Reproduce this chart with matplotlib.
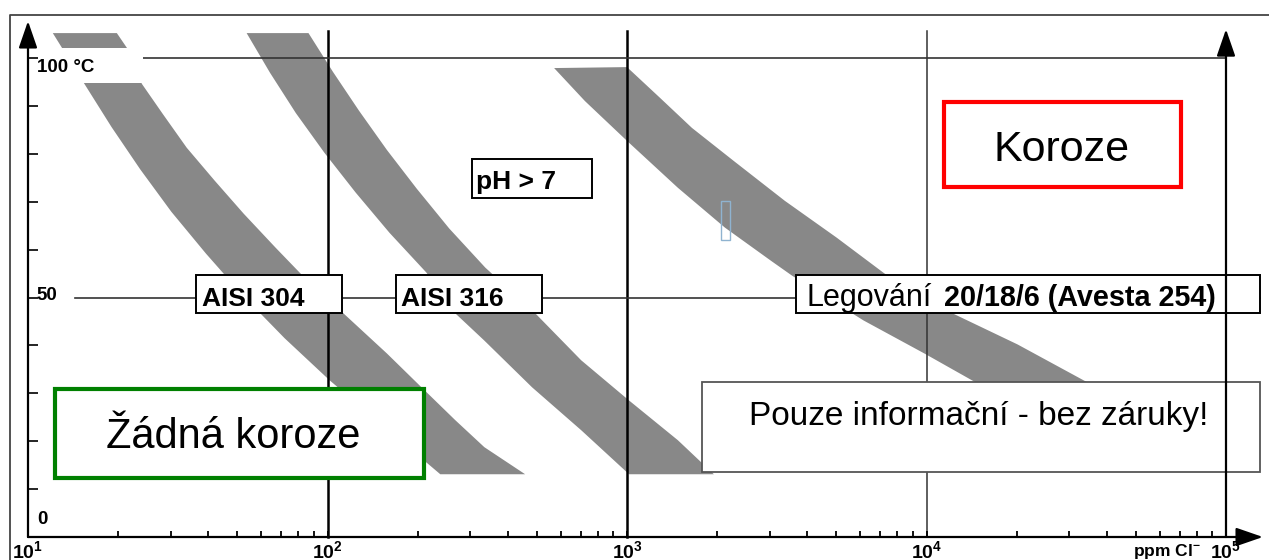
import matplotlib
matplotlib.use('Agg')
import matplotlib.pyplot as plt
from matplotlib.patches import Rectangle
from matplotlib.ticker import LogLocator, NullFormatter

plt.rcParams['font.family'] = ['Liberation Sans', 'DejaVu Sans']
plt.rcParams['mathtext.fontset'] = 'custom'
plt.rcParams['mathtext.rm'] = 'Liberation Sans'
plt.rcParams['mathtext.bf'] = 'Liberation Sans:bold'

# pásma (ppm Cl-, teplota °C) - levý a pravý okraj
aisi304_left_ppm = [12.1, 15.5, 19.0, 23.7, 30.1, 39.3, 52.4, 71.9, 101.7, 238]
aisi304_left_t = [105.2, 94.4, 85.6, 76.75, 67.9, 59.15, 50.3, 41.5, 32.7, 13.1]
aisi304_right_ppm = [19.8, 21.4, 24.0, 28.2, 33.9, 42.0, 52.5, 67.1, 81.3, 113, 158, 206, 267, 334, 457]
aisi304_right_t = [105.2, 102.1, 94.6, 88.3, 81.25, 74.4, 67.5, 60.4, 55.0, 46.7, 38.3, 31.25, 24.4, 18.75, 13.1]

aisi316_left_ppm = [53.7, 64.3, 78.4, 97.7, 124.2, 161.1, 213.9, 267, 334, 482, 703, 1016]
aisi316_left_t = [105.2, 96.9, 88.5, 80.2, 71.9, 63.5, 55.2, 46.7, 41.0, 31.25, 22.3, 13.1]
aisi316_right_ppm = [86.4, 104.3, 127.4, 157.9, 198.7, 255.0, 336.3, 494, 703, 1016, 1479, 1950]
aisi316_right_t = [105.2, 97.1, 89.0, 80.8, 72.7, 64.4, 56.25, 46.7, 36.9, 28.5, 20.2, 13.1]

avesta_left_ppm = [571, 724, 1000, 1479, 2122, 3020, 3550, 6166, 9847, 14570, 18600]
avesta_left_t = [97.9, 91.0, 82.7, 72.9, 64.6, 57.7, 54.6, 45.2, 38.3, 32.3, 28.0]
avesta_right_ppm = [1000, 1288, 1648, 2273, 3362, 5012, 7244, 12210, 20140, 34410, 45000]
avesta_right_t = [98.1, 91.7, 85.4, 78.5, 70.2, 62.5, 55.0, 46.7, 40.2, 32.3, 28.0]

x_major = [10, 100, 1000, 10000, 100000]
x_labels = [r'$\mathbf{10^{1}}$', r'$\mathbf{10^{2}}$', r'$\mathbf{10^{3}}$',
            r'$\mathbf{10^{4}}$', r'$\mathbf{10^{5}}$']
y_ticks = list(range(0, 101, 10))

band_color = '#888888'


def band(ax, lx, ly, rx, ry):
    xs = list(lx) + list(rx)[::-1]
    ys = list(ly) + list(ry)[::-1]
    ax.fill(xs, ys, color=band_color, lw=0, zorder=1, clip_on=False)


def box(ax, x0, x1, y0, y1, ec, lw, z=5):
    ax.add_patch(Rectangle((x0, y0), x1 - x0, y1 - y0, facecolor='white',
                           edgecolor=ec, lw=lw, zorder=z, clip_on=False))


fig = plt.figure(figsize=(12.69, 5.6), dpi=100)
ax = fig.add_axes([28 / 1269, 23 / 560, 1198 / 1269, 479 / 560])
ax.set_xscale('log')
ax.set_xlim(10, 1e5)
ax.set_ylim(0, 100)
for s in ax.spines.values():
    s.set_visible(False)

band(ax, aisi304_left_ppm, aisi304_left_t, aisi304_right_ppm, aisi304_right_t)
band(ax, aisi316_left_ppm, aisi316_left_t, aisi316_right_ppm, aisi316_right_t)
band(ax, avesta_left_ppm, avesta_left_t, avesta_right_ppm, avesta_right_t)

# mrizka
ax.plot([100, 100], [0, 105.6], color='black', lw=1.8, zorder=2, clip_on=False)
ax.plot([1000, 1000], [0, 105.6], color='black', lw=1.8, zorder=2, clip_on=False)
ax.plot([10000, 10000], [0, 105.6], color='#333333', lw=1.1, zorder=2, clip_on=False)
ax.plot([24.2, 1e5], [100, 100], color='#333333', lw=1.2, zorder=2, clip_on=False)
ax.plot([14.35, 129800], [50, 50], color='#333333', lw=1.2, zorder=2, clip_on=False)

# ramecek
ax.plot([8.71, 8.71, 3e5], [-10, 108.96, 108.96], color='#444444', lw=1.3,
        zorder=2, clip_on=False)

# osy se sipkami
arr = dict(arrowstyle='-|>,head_length=1.1,head_width=0.38', color='black',
           lw=1.6, shrinkA=0, shrinkB=0, mutation_scale=15)
ax.annotate('', xy=(10, 107.7), xytext=(10, 0), arrowprops=arr,
            annotation_clip=False, zorder=6)
ax.annotate('', xy=(1e5, 106.0), xytext=(1e5, 0), arrowprops=arr,
            annotation_clip=False, zorder=6)
ax.annotate('', xy=(132800, 0), xytext=(10, 0), arrowprops=arr,
            annotation_clip=False, zorder=6)

ax.set_xticks(x_major, labels=x_labels)
ax.xaxis.set_minor_locator(LogLocator(base=10, subs=range(2, 10)))
ax.xaxis.set_minor_formatter(NullFormatter())
ax.tick_params(axis='x', which='major', direction='in', length=4, width=1.3,
               labelsize=14, pad=2.5)
ax.tick_params(axis='x', which='minor', direction='in', length=4, width=1.3)
ax.set_yticks(y_ticks)
ax.tick_params(axis='y', direction='in', length=7.5, width=1.2, labelleft=False)
ax.xaxis.set_zorder(10)
ax.yaxis.set_zorder(10)

# popisky osy y
box(ax, 10.8, 24.2, 94.8, 102.1, 'none', 0, z=3)
ax.text(10.7, 97.1, '100 °C', fontsize=13.5, fontweight='bold', zorder=7)
ax.text(10.65, 49.4, '50', fontsize=13.5, fontweight='bold', zorder=7)
ax.text(10.7, 2.7, '0', fontsize=13.5, fontweight='bold', zorder=7)
ax.text(48980, -4.0, r'ppm Cl$^{\mathbf{-}}$', fontsize=12.5, fontweight='bold',
        zorder=7, clip_on=False)

# stitky
box(ax, 36.3, 112.2, 46.7, 54.8, 'black', 1.4)
ax.text(38.0, 48.3, 'AISI 304', fontsize=19, fontweight='bold', zorder=7)
box(ax, 169.8, 520.8, 46.7, 54.8, 'black', 1.4)
ax.text(176.4, 48.3, 'AISI 316', fontsize=19, fontweight='bold', zorder=7)
box(ax, 304.3, 764.6, 70.8, 79.0, 'black', 1.4)
ax.text(313.8, 72.7, 'pH > 7', fontsize=19, fontweight='bold', zorder=7)
box(ax, 3659, 129800, 46.7, 54.6, 'black', 1.4)
ax.text(3981, 48.3, 'Legování', fontsize=22, zorder=7)
ax.text(11480, 48.3, '20/18/6 (Avesta 254)', fontsize=20.7, fontweight='bold', zorder=7)

box(ax, 11480, 70790, 73.1, 90.8, '#ff0000', 3.0)
ax.text(28180, 78.5, 'Koroze', fontsize=31, ha='center', zorder=7)
box(ax, 12.3, 210.6, 12.3, 31.0, '#008000', 3.0)
ax.text(48.6, 18.5, 'Žádná koroze', fontsize=30, ha='center', zorder=7)
box(ax, 1778, 129800, 13.5, 32.3, '#555555', 1.3)
ax.text(14910, 23.3, 'Pouze informační - bez záruky!', fontsize=24, ha='center',
        zorder=7)

# drobny modry obdelnik
ax.add_patch(Rectangle((2057, 61.9), 2204 - 2057, 70.2 - 61.9, facecolor='none',
                       edgecolor='#8fb3d0', lw=1.0, zorder=4))

fig.savefig('out.png', dpi=100)
